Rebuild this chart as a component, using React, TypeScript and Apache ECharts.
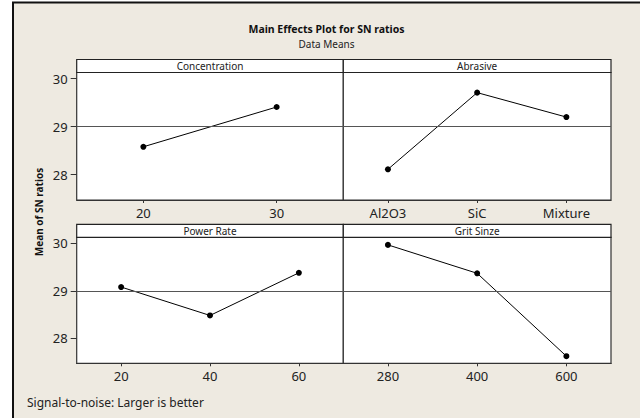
import React, { useEffect, useRef } from "react";
import * as echarts from "echarts";

const concentrationLevels = ["20", "30"];
const concentrationSN = [28.58, 29.41];
const abrasiveLevels = ["Al2O3", "SiC", "Mixture"];
const abrasiveSN = [28.11, 29.71, 29.2];
const powerLevels = ["20", "40", "60"];
const powerSN = [29.08, 28.48, 29.38];
const gritLevels = ["280", "400", "600"];
const gritSN = [29.97, 29.37, 27.62];
const panelTitles = ["Concentration", "Abrasive", "Power Rate", "Grit Sinze"];
const yTicks = [28, 29, 30];
const grandMean = 29;

const FONT = "Noto Sans";

export default function App() {
  const ref = useRef<HTMLDivElement>(null);
  useEffect(() => {
    if (!ref.current) return;
    const chart = echarts.init(ref.current, null, { renderer: "svg" });
    const panels = [
      { cats: concentrationLevels, vals: concentrationSN, left: 76.7, top: 72.5, width: 266.6, height: 127.5, showY: true },
      { cats: abrasiveLevels, vals: abrasiveSN, left: 343.3, top: 72.5, width: 267.7, height: 127.5, showY: false },
      { cats: powerLevels, vals: powerSN, left: 76.7, top: 237.3, width: 266.6, height: 126, showY: true },
      { cats: gritLevels, vals: gritSN, left: 343.3, top: 237.3, width: 267.7, height: 126, showY: false },
    ];
    const headers = panels.map((p, i) => ({
      type: "group",
      children: [
        {
          type: "rect",
          shape: { x: p.left, y: p.top - 13, width: p.width, height: 13 },
          style: { fill: "#ffffff", stroke: "#222", lineWidth: 1.2 },
          z: 10,
        },
        {
          type: "text",
          x: p.left + p.width / 2,
          y: p.top - 6.3,
          style: {
            text: panelTitles[i],
            fontFamily: FONT,
            fontSize: 10,
            fill: "#222",
            align: "center",
            verticalAlign: "middle",
          },
          z: 11,
        },
      ],
    }));
    const option: any = {
      animation: false,
      backgroundColor: "#ffffff",
      graphic: [
        {
          type: "rect",
          shape: { x: 13, y: 2.5, width: 640, height: 430 },
          style: { fill: "#EEEAE1", stroke: "#111", lineWidth: 2 },
          z: -10,
        },
        {
          type: "text",
          x: 326.5,
          y: 28.5,
          style: {
            text: "Main Effects Plot for SN ratios",
            fontFamily: FONT,
            fontWeight: "bold",
            fontSize: 10.5,
            fill: "#111",
            align: "center",
            verticalAlign: "middle",
          },
        },
        {
          type: "text",
          x: 326.5,
          y: 43.5,
          style: {
            text: "Data Means",
            fontFamily: FONT,
            fontSize: 10,
            fill: "#222",
            align: "center",
            verticalAlign: "middle",
          },
        },
        {
          type: "text",
          x: 39,
          y: 212,
          rotation: Math.PI / 2,
          style: {
            text: "Mean of SN ratios",
            fontFamily: FONT,
            fontWeight: "bold",
            fontSize: 10,
            fill: "#111",
            align: "center",
            verticalAlign: "middle",
          },
        },
        {
          type: "text",
          x: 27,
          y: 402.5,
          style: {
            text: "Signal-to-noise: Larger is better",
            fontFamily: FONT,
            fontSize: 12,
            fill: "#222",
            align: "left",
            verticalAlign: "middle",
          },
        },
        ...headers,
      ],
      grid: panels.map((p) => ({
        left: p.left,
        top: p.top,
        width: p.width,
        height: p.height,
        show: true,
        backgroundColor: "#ffffff",
        borderColor: "#333",
        borderWidth: 1.2,
        containLabel: false,
      })),
      xAxis: panels.map((p, i) => ({
        type: "category",
        gridIndex: i,
        data: p.cats,
        boundaryGap: true,
        axisLine: { show: true, lineStyle: { color: "#333", width: 1.2 } },
        axisTick: { show: true, alignWithLabel: true, length: 3, lineStyle: { color: "#333" } },
        axisLabel: { fontFamily: FONT, fontSize: 13, color: "#222", margin: 6 },
        splitLine: { show: false },
      })),
      yAxis: panels.map((p, i) => ({
        type: "value",
        gridIndex: i,
        min: 27.47,
        max: 30.13,
        axisLine: { show: false },
        axisTick: {
          show: p.showY,
          length: 6,
          customValues: yTicks,
          lineStyle: { color: "#333" },
        },
        axisLabel: {
          show: p.showY,
          customValues: yTicks,
          fontFamily: FONT,
          fontSize: 13,
          color: "#222",
          margin: 9,
        },
        splitLine: { show: false },
      })),
      series: panels.map((p, i) => ({
        type: "line",
        xAxisIndex: i,
        yAxisIndex: i,
        data: p.vals,
        symbol: "circle",
        symbolSize: 6,
        itemStyle: { color: "#000" },
        lineStyle: { color: "#000", width: 1 },
        markLine: {
          silent: true,
          symbol: "none",
          label: { show: false },
          lineStyle: { color: "#555", width: 1.2, type: "solid" },
          data: [{ yAxis: grandMean }],
        },
      })),
    };
    chart.setOption(option);
    return () => chart.dispose();
  }, []);
  return (
    <div
      ref={ref}
      style={{ position: "fixed", left: 0, top: 0, width: 640, height: 418 }}
    />
  );
}
